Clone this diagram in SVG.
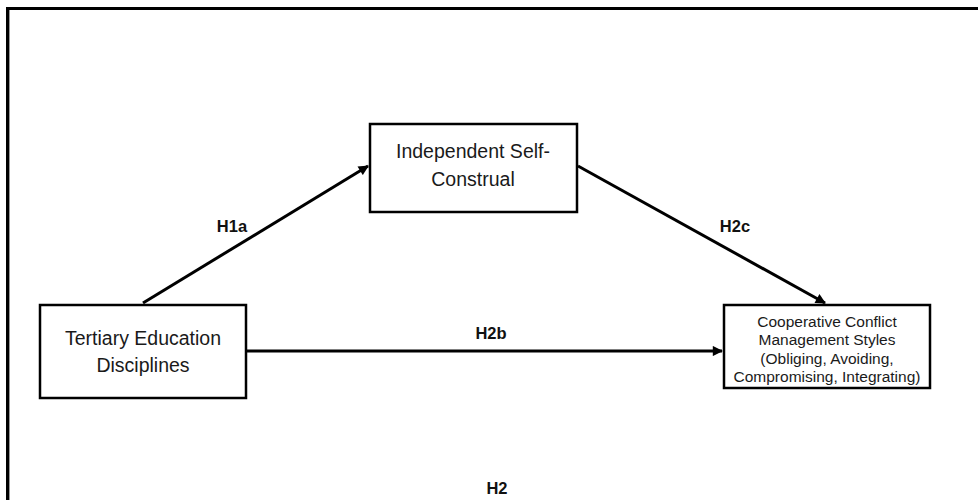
<svg xmlns="http://www.w3.org/2000/svg" width="978" height="500" viewBox="0 0 978 500">
<style>
.box{fill:#fff;stroke:#000;stroke-width:2.5}
.t{font-family:"Liberation Sans",Arial,sans-serif;fill:#1a1a1a;text-anchor:middle}
.big{font-size:19.5px}
.small{font-size:15.5px}
.lbl{font-family:"Liberation Sans",Arial,sans-serif;font-weight:bold;font-size:16.5px;fill:#111;text-anchor:middle}
.conn{stroke:#000;stroke-width:3;fill:none}
</style>
<defs>
<marker id="ah" viewBox="0 0 10 10" refX="9" refY="5" markerWidth="4" markerHeight="3.4" orient="auto" markerUnits="strokeWidth">
<path d="M0,0 L10,5 L0,10 Z" fill="#000"/>
</marker>
</defs>
<rect width="978" height="500" fill="#fff"/>
<g id="frame">
<path d="M9.5,500 V9.5 H978" fill="none" stroke="#999" stroke-width="1"/>
<path d="M7.5,500 V8.5 H978" fill="none" stroke="#000" stroke-width="3"/>
</g>
<g id="connectors">
<line class="conn" x1="143" y1="303" x2="368" y2="166" marker-end="url(#ah)"/>
<line class="conn" x1="578" y1="166" x2="825" y2="303" marker-end="url(#ah)"/>
<line class="conn" x1="246" y1="351" x2="722" y2="351" marker-end="url(#ah)"/>
<text class="lbl" x="232" y="232">H1a</text>
<text class="lbl" x="735" y="232">H2c</text>
<text class="lbl" x="491" y="339">H2b</text>
<text class="lbl" x="497" y="494">H2</text>
</g>
<g id="independent">
<rect class="box" x="370" y="124" width="207" height="88"/>
<text class="t big" x="473" y="158">Independent Self-</text>
<text class="t big" x="473" y="186">Construal</text>
</g>
<g id="tertiary">
<rect class="box" x="40" y="305" width="206" height="93"/>
<text class="t big" x="143" y="345">Tertiary Education</text>
<text class="t big" x="143" y="372">Disciplines</text>
</g>
<g id="cooperative">
<rect class="box" x="724" y="305" width="206" height="83"/>
<text class="t small" x="827" y="327">Cooperative Conflict</text>
<text class="t small" x="827" y="345">Management Styles</text>
<text class="t small" x="827" y="364">(Obliging, Avoiding,</text>
<text class="t small" x="827" y="382">Compromising, Integrating)</text>
</g>
</svg>
